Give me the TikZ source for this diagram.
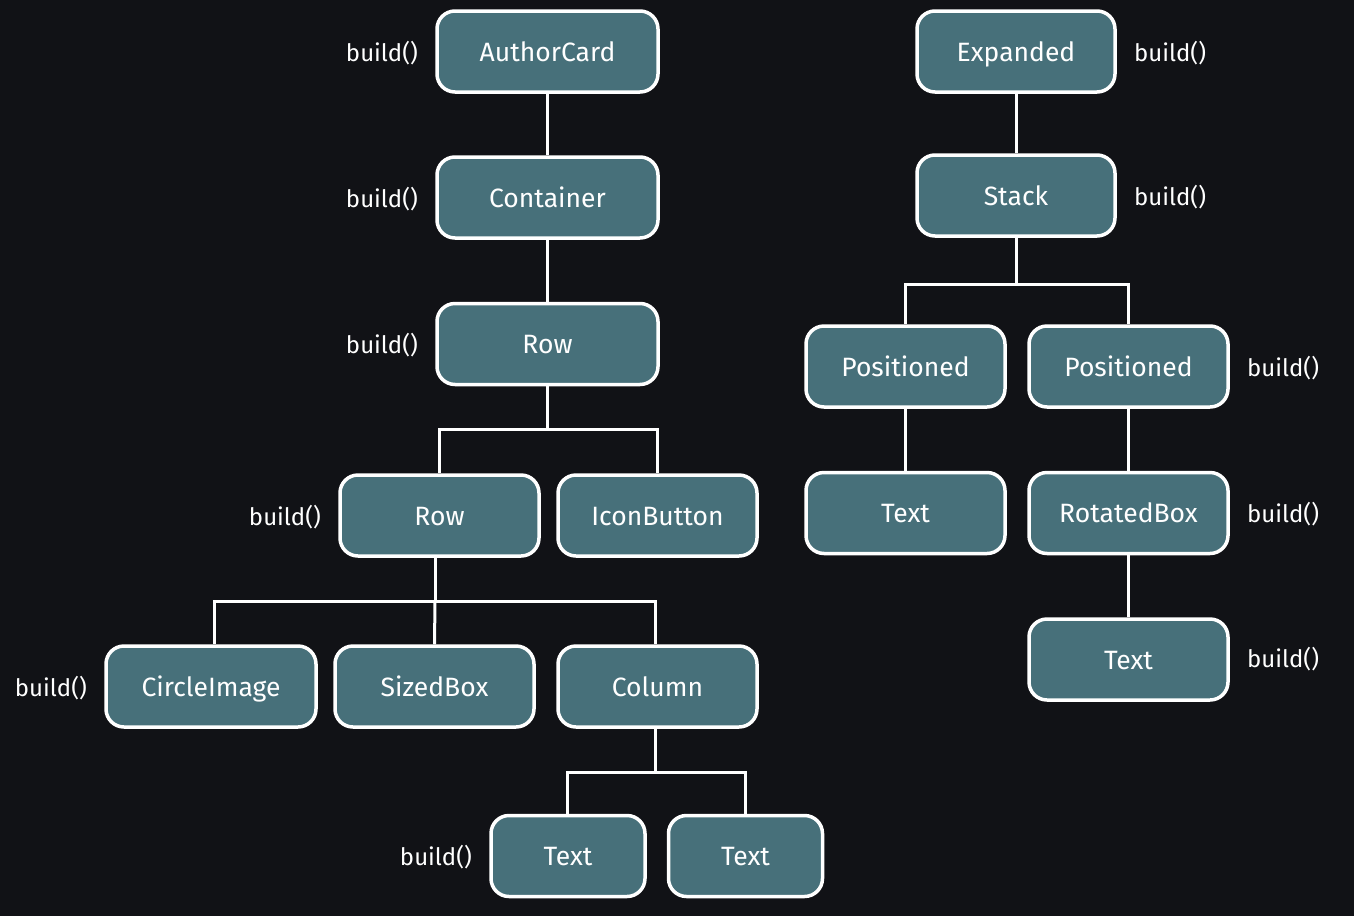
\documentclass[tikz,border=0pt]{standalone}
\usepackage{fontspec}
\setmainfont{Fira Sans}
\definecolor{bg}{HTML}{111216}
\definecolor{boxfill}{HTML}{47707A}
\begin{document}
\begin{tikzpicture}[x=1pt,y=-1pt,
  wbox/.style={draw=white, line width=3.5pt, fill=boxfill, rounded corners=18pt, minimum height=81pt, text=white, font=\fontsize{26.5}{30}\selectfont, inner sep=0pt, text height=24pt, text depth=5pt},
  lbl/.style={text=white, font=\fontsize{24}{27}\selectfont, inner sep=0pt},
  conn/.style={draw=white, line width=3pt}]
\fill[bg] (0,0) rectangle (1354,916);
\useasboundingbox (0,0) rectangle (1354,916);
% left tree
\node[wbox, minimum width=221pt] (author) at (547.5,51.5) {AuthorCard};
\node[wbox, minimum width=221pt] (container) at (547.5,197.5) {Container};
\node[wbox, minimum width=221pt] (row1) at (547.5,344) {Row};
\node[wbox, minimum width=199pt] (row2) at (439.5,515.5) {Row};
\node[wbox, minimum width=199pt] (icon) at (657.5,515.5) {IconButton};
\node[wbox, minimum width=210pt] (circle) at (211,686.5) {CircleImage};
\node[wbox, minimum width=199pt] (sized) at (434.5,686.5) {SizedBox};
\node[wbox, minimum width=199pt] (column) at (657.5,686.5) {Column};
\node[wbox, minimum width=154pt] (text1) at (568,856) {Text};
\node[wbox, minimum width=154pt] (text2) at (745.5,856) {Text};
% right tree
\node[wbox, minimum width=198pt] (expanded) at (1016,51.5) {Expanded};
\node[wbox, minimum width=198pt] (stack) at (1016,195.5) {Stack};
\node[wbox, minimum width=199pt] (pos1) at (905.5,366.5) {Positioned};
\node[wbox, minimum width=199pt] (pos2) at (1128.5,366.5) {Positioned};
\node[wbox, minimum width=199pt] (text3) at (905.5,513) {Text};
\node[wbox, minimum width=199pt] (rotated) at (1128.5,513) {RotatedBox};
\node[wbox, minimum width=199pt] (text4) at (1128.5,659.5) {Text};
% labels
\node[lbl, anchor=base east] (l1) at (418,61) {build()};
\node[lbl, anchor=base east] (l2) at (418,207) {build()};
\node[lbl, anchor=base east] (l3) at (418,353) {build()};
\node[lbl, anchor=base east] (l4) at (321,525) {build()};
\node[lbl, anchor=base east] (l5) at (87,696) {build()};
\node[lbl, anchor=base east] (l6) at (472,865) {build()};
\node[lbl, anchor=base west] (r1) at (1134,61) {build()};
\node[lbl, anchor=base west] (r2) at (1134,205) {build()};
\node[lbl, anchor=base west] (r3) at (1247,376) {build()};
\node[lbl, anchor=base west] (r4) at (1247,522) {build()};
\node[lbl, anchor=base west] (r5) at (1247,667) {build()};
% connectors
\draw[conn] (author) -- (container);
\draw[conn] (container) -- (row1);
\draw[conn] (row1.south) -- (547.5,429) -| (row2.north);
\draw[conn] (547.5,429) -| (icon.north);
\draw[conn] ([xshift=-4.5pt]row2.south) -- (435,601) -| ([xshift=3pt]circle.north);
\draw[conn] (435,601) -- (sized.north);
\draw[conn] (435,601) -| ([xshift=-2.5pt]column.north);
\draw[conn] ([xshift=-2.5pt]column.south) -- (655,772) -| ([xshift=-1pt]text1.north);
\draw[conn] (655,772) -| (text2.north);
\draw[conn] (expanded) -- (stack);
\draw[conn] (stack.south) -- (1016,284) -| (pos1.north);
\draw[conn] (1016,284) -| (pos2.north);
\draw[conn] (pos1) -- (text3);
\draw[conn] (pos2) -- (rotated);
\draw[conn] (rotated) -- (text4);
\end{tikzpicture}
\end{document}
